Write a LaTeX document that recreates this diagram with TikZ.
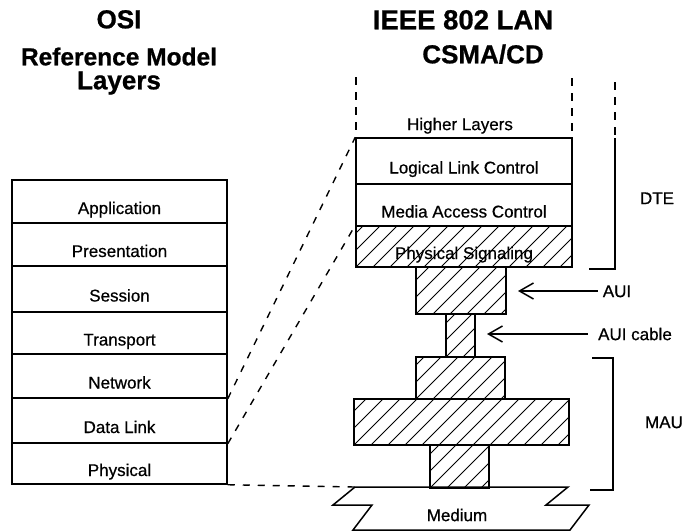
\documentclass[tikz,border=0pt]{standalone}
\usepackage{fontspec}
\setmainfont{Liberation Sans}
\newfontfamily\labelfont[FakeBold=0.6]{Liberation Sans}
\newfontfamily\titlefont[FakeBold=0.8]{Liberation Sans Bold}
\usetikzlibrary{arrows.meta}
\begin{document}
\begin{tikzpicture}[x=1pt,y=-1pt,
  layerbox/.style={draw, line width=1.5pt, inner sep=0pt, text height=25pt, text depth=0pt,
    font=\labelfont\fontsize{17}{20}\selectfont},
  hatched/.style={path picture={
    \foreach \i in {-4,...,13}{
      \draw[line width=0.8pt] ([xshift=\i*17pt]path picture bounding box.south west) -- ++(70pt,70pt);}}},
  lbl/.style={inner sep=0pt, text height=12.2pt, text depth=0pt, font=\labelfont\fontsize{17}{20}\selectfont},
  ttl/.style={inner sep=0pt, text height=18.6pt, text depth=0pt, font=\titlefont\fontsize{26}{30}\selectfont},
  dsh/.style={line width=1.4pt, dash pattern=on 7pt off 8pt},
  tick/.style={line width=1.8pt},
  solidline/.style={line width=1.5pt},
  arr/.style={line width=1.5pt, -{Straight Barb[length=14pt,width=16pt,line width=1.5pt]}}
]
\useasboundingbox (0,0) rectangle (688,531);

% titles
\node[ttl] (tosi) at (119,19) {OSI};
\node[ttl, font=\titlefont\fontsize{24.5}{30}\selectfont] (tref) at (119,56) {Reference Model};
\node[ttl] (tlay) at (119,80) {Layers};
\node[ttl, font=\titlefont\fontsize{27.5}{30}\selectfont] (tieee) at (463,20) {IEEE 802 LAN};
\node[ttl] (tcsma) at (483,54) {CSMA/CD};

% OSI reference model stack
\node[layerbox, minimum width=215pt, minimum height=43pt] (app)   at (119.5,201.5) {Application};
\node[layerbox, minimum width=215pt, minimum height=43pt] (pres)  at (119.5,244.5) {Presentation};
\node[layerbox, minimum width=215pt, minimum height=46pt] (sess)  at (119.5,289)   {Session};
\node[layerbox, minimum width=215pt, minimum height=42pt] (trans) at (119.5,333)   {Transport};
\node[layerbox, minimum width=215pt, minimum height=44pt] (net)   at (119.5,376)   {Network};
\node[layerbox, minimum width=215pt, minimum height=45pt] (dl)    at (119.5,420.5) {Data Link};
\node[layerbox, minimum width=215pt, minimum height=41pt] (phys)  at (119.5,463.5) {Physical};

% IEEE 802 stack
\node[lbl] (higher) at (460,124) {Higher Layers};
\node[layerbox, minimum width=216pt, minimum height=46pt] (llc)  at (464,161)   {Logical Link Control};
\node[layerbox, minimum width=216pt, minimum height=42pt] (mac)  at (464,205)   {Media Access Control};
\node[layerbox, hatched, minimum width=216pt, minimum height=41pt] (psig) at (464,246.5) {Physical Signaling};
\node[layerbox, hatched, minimum width=90pt,  minimum height=47pt] (auibox) at (461,290.5) {};
\node[layerbox, hatched, minimum width=29pt,  minimum height=43pt] (cable)  at (460.5,335.5) {};
\node[layerbox, hatched, minimum width=89pt,  minimum height=42pt] (mauup)  at (460.5,378) {};
\node[layerbox, hatched, minimum width=215pt, minimum height=46pt] (mauwide) at (461.5,422) {};
\node[layerbox, hatched, minimum width=59pt,  minimum height=43pt] (mauneck) at (459.5,466.5) {};

% medium
\draw[solidline, line join=miter] (355,487) coordinate (medtl) -- (568,487) -- (546,505) -- (589,505)
  -- (570,530) -- (353,530) -- (372,505) -- (333,505) -- cycle;
\node[lbl] (medium) at (457,515) {Medium};

% open-ended sides above the stack and above the DTE bracket: short dashes
\foreach \yy in {77,92,107,122}{
  \draw[tick] (356,\yy) -- ++(0,8);
  \draw[tick] (572,\yy+1) -- ++(0,8);
  \draw[tick] (615,\yy+5) -- ++(0,8);
}

% mapping between the two models
\draw[dsh] (net.south east) -- (llc.north west);
\draw[dsh] (dl.south east) -- (psig.north west);
\draw[dsh] (phys.south east) -- (medtl);

% DTE bracket
\coordinate (dtemid) at (615,138);
\coordinate (dtebot) at (615,269);
\coordinate (dtefoot) at (589,269);
\draw[solidline] (dtemid) -- (dtebot) -- (dtefoot);
\node[lbl] (dte) at (657,198) {DTE};

% MAU bracket
\coordinate (mau1) at (592,358);
\coordinate (mau2) at (613,358);
\coordinate (mau3) at (613,490);
\coordinate (mau4) at (590,490);
\draw[solidline] (mau1) -- (mau2) -- (mau3) -- (mau4);
\node[lbl] (mau) at (664,422) {MAU};

% AUI pointers
\node[lbl] (auil) at (617,291) {AUI};
\coordinate (auitip) at (518,291);
\draw[arr] ([xshift=-5pt]auil.west) -- (auitip);
\node[lbl] (cablel) at (635,334) {AUI cable};
\coordinate (cabletip) at (487,334);
\draw[arr] ([xshift=-10pt]cablel.west) -- (cabletip);
\end{tikzpicture}
\end{document}
